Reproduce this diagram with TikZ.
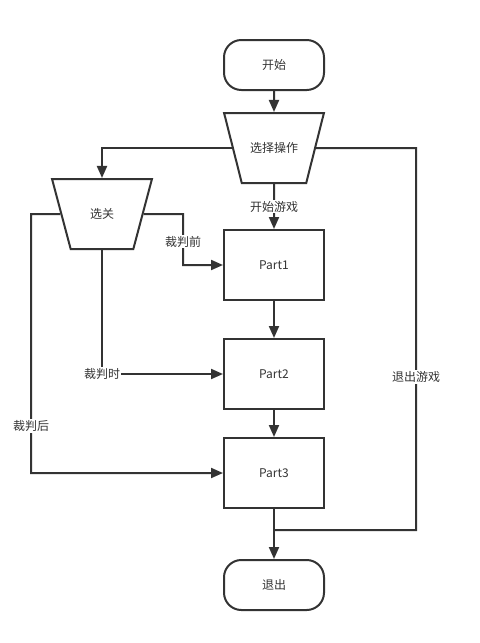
\documentclass[tikz,border=0pt]{standalone}
\usepackage{fontspec}
\setmainfont{Noto Sans CJK SC}
\usepackage{tikz}
\usetikzlibrary{arrows.meta,positioning,shapes.geometric}
\definecolor{linegray}{RGB}{51,51,51}

\tikzset{
  flowline/.style={draw=linegray,line width=1.5pt},
  flowarrow/.style={flowline,-{Triangle[length=9pt,width=7.5pt]}},
  termbox/.style={draw=linegray,line width=1.5pt,rounded corners=13pt,minimum width=75pt,minimum height=37.5pt,text=linegray},
  partbox/.style={draw=linegray,line width=1.5pt,minimum width=75pt,minimum height=52.5pt,text=linegray},
  menubox/.style={draw=linegray,line width=1.5pt,trapezium,shape border rotate=180,trapezium angle=66,
    trapezium stretches=true,minimum width=75pt,minimum height=52.5pt,inner sep=0pt,text=linegray},
  edgelabel/.style={fill=white,text=linegray,inner sep=1pt}
}

\begin{document}
\begin{tikzpicture}[x=0.75pt,y=-0.75pt,font=\fontsize{9pt}{11pt}\selectfont]
\useasboundingbox (0,0) rectangle (479,643);
\node[termbox] (start) at (274,65) {开始};
\node[menubox,trapezium angle=40] (menu) at (274,148) {选择操作};
\node[menubox,trapezium angle=57] (level) at (102,214) {选关};
\node[partbox] (p1) at (274,265) {Part1};
\node[partbox] (p2) at (274,374) {Part2};
\node[partbox] (p3) at (274,473) {Part3};
\node[termbox] (quit) at (274,585) {退出};

\coordinate (before) at (183,214);
\coordinate (after) at (31,214);
\coordinate (exitc) at (416,148);
\coordinate (join) at (274,530);

\draw[flowarrow] (start) -- (menu);
\draw[flowarrow] (menu) -| (level);
\draw[flowarrow] (menu) -- node[edgelabel] {开始游戏} (p1);
\draw[flowarrow] (level) -- (before) |- node[edgelabel,pos=0.27] {裁判前} (p1);
\draw[flowarrow] (level) |- node[edgelabel] {裁判时} (p2);
\draw[flowarrow] (level) -- (after) |- node[edgelabel,pos=0.41] {裁判后} (p3);
\draw[flowarrow] (p1) -- (p2);
\draw[flowarrow] (p2) -- (p3);
\draw[flowarrow] (p3) -- (quit);
\draw[flowline] (menu) -- (exitc) |- node[edgelabel,pos=0.3] {退出游戏} (join);
\end{tikzpicture}
\end{document}
